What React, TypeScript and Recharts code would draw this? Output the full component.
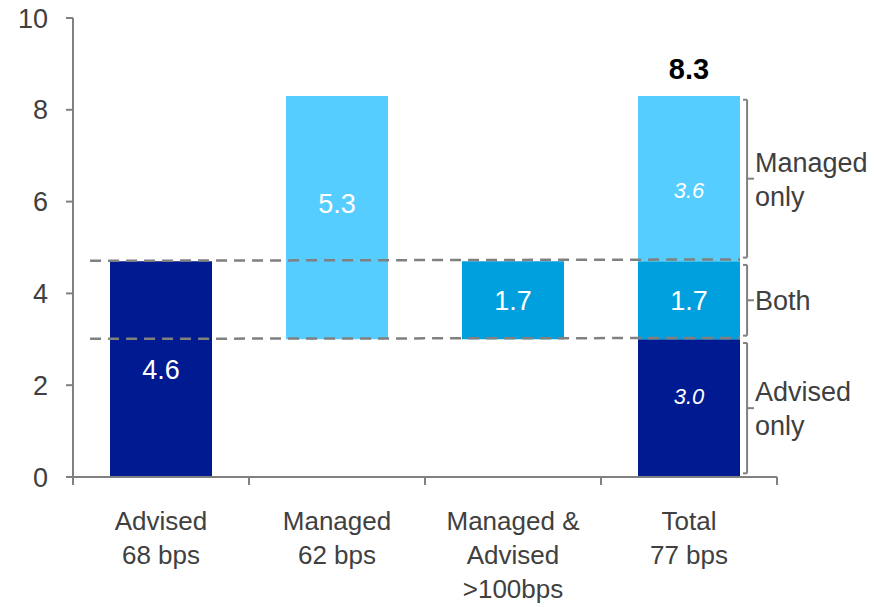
import React from 'react';
import { BarChart, Bar, XAxis, YAxis, ReferenceLine, LabelList } from 'recharts';

const FONT = '"Liberation Sans", Arial, Helvetica, sans-serif';
const TEXT = '#404040';
const AXIS = '#808080';

const categories = ['Advised\n68 bps', 'Managed\n62 bps', 'Managed &\nAdvised\n>100bps', 'Total\n77 bps'];
const baseValues = [0, 3.0, 3.0, 0];
const advisedOnly = [4.7, 0, 0, 3.0];
const bothValues = [0, 0, 1.7, 1.7];
const managedOnly = [0, 5.3, 0, 3.6];

const advisedLabels = ['4.6', '', '', '3.0'];
const bothLabels = ['', '', '1.7', '1.7'];
const managedLabels = ['', '5.3', '', '3.6'];
const totalLabel = '8.3';

const yTicks = [0, 2, 4, 6, 8, 10];

// dashed guide levels: [left, right]
const upperGuide = [4.71, 4.74];
const lowerGuide = [3.01, 3.03];

const bracketNames = [['Advised', 'only'], ['Both'], ['Managed', 'only']];
const totalSegments = [advisedOnly[3], bothValues[3], managedOnly[3]];

const data = categories.map((name, i) => ({
  name,
  pos: i + 0.5,
  base: baseValues[i],
  advised: advisedOnly[i],
  both: bothValues[i],
  managed: managedOnly[i],
}));

const xTicks = [0, 0.5, 1, 1.5, 2, 2.5, 3, 3.5, 4];

function CategoryTick({ x, y, payload }: any) {
  const v = Number(payload.value);
  if (Number.isInteger(v)) {
    return <line x1={x} y1={y} x2={x} y2={y + 8} stroke={AXIS} strokeWidth={2} />;
  }
  const lines = categories[Math.floor(v)].split('\n');
  return (
    <text x={x} y={y} textAnchor="middle" fill={TEXT} fontSize={26} fontFamily={FONT}>
      {lines.map((l, i) => (
        <tspan key={i} x={x} y={y + 53 + i * 34}>{l}</tspan>
      ))}
    </text>
  );
}

function makeLabel(labels: string[], series: string) {
  return (props: any) => {
    const { x, y, width, height, value } = props;
    const index = categories.indexOf(value);
    const txt = labels[index];
    if (!txt) return null;
    const italic = index === 3 && series !== 'both';
    let dy = 0;
    if (series === 'managed' && index === 1) dy = -14;
    if (series === 'managed' && index === 3) dy = 11;
    if (series === 'advised' && index === 3) dy = -12;
    return (
      <text
        x={x + width / 2}
        y={y + height / 2 + dy}
        dy="0.36em"
        textAnchor="middle"
        fill="#ffffff"
        fontSize={italic ? 22 : 27}
        fontStyle={italic ? 'italic' : 'normal'}
        fontFamily={FONT}
      >
        {txt}
      </text>
    );
  };
}

function TotalLabel(props: any) {
  const { x, y, width, value } = props;
  if (value !== categories[3]) return null;
  return (
    <text x={x + width / 2} y={y - 17} textAnchor="middle" fill="#000" fontSize={29} fontWeight="bold" fontFamily={FONT}>
      {totalLabel}
    </text>
  );
}

function BracketLabel({ viewBox, lines }: any) {
  const x = viewBox.x + viewBox.width + 1;
  const first = viewBox.y + 10 - (lines.length - 1) * 17;
  return (
    <text x={x} y={first} fill={TEXT} fontSize={27} fontFamily={FONT}>
      {lines.map((l: string, i: number) => (
        <tspan key={i} x={x} y={first + i * 34}>{l}</tspan>
      ))}
    </text>
  );
}

const BX = 3.83;
const BX_IN = 3.807;
const BX_OUT = 3.869;
const INSET = 0.08;

const nameKey = (d: any) => d.name;

export default function App() {
  let acc = 0;
  const brackets = totalSegments.map((v, i) => {
    const lo = acc + INSET;
    const hi = acc + v - INSET;
    acc += v;
    return { lo, hi, mid: (lo + hi) / 2, lines: bracketNames[i] };
  });

  return (
    <div style={{ position: 'absolute', left: 0, top: 0, background: '#fff' }}>
      <BarChart
        width={875}
        height={607}
        data={data}
        margin={{ top: 18, right: 98, bottom: 0, left: 0 }}
        barSize={102}
      >
        <XAxis
          dataKey="pos"
          type="number"
          domain={[0, 4]}
          ticks={xTicks}
          interval={0}
          height={130}
          tickSize={0}
          tickMargin={0}
          tickLine={false}
          axisLine={{ stroke: AXIS, strokeWidth: 2 }}
          tick={<CategoryTick />}
          allowDataOverflow
        />
        <YAxis
          width={73}
          domain={[0, 10]}
          ticks={yTicks}
          tickSize={7}
          tickMargin={18}
          axisLine={{ stroke: AXIS, strokeWidth: 2 }}
          tickLine={{ stroke: AXIS, strokeWidth: 2 }}
          tick={{ fill: TEXT, fontSize: 27, fontFamily: FONT }}
        />
        <Bar dataKey="base" stackId="a" fill="none" isAnimationActive={false} />
        <Bar dataKey="advised" stackId="a" fill="#001a91" isAnimationActive={false}>
          <LabelList dataKey={nameKey} content={makeLabel(advisedLabels, 'advised')} />
        </Bar>
        <Bar dataKey="both" stackId="a" fill="#009fdd" isAnimationActive={false}>
          <LabelList dataKey={nameKey} content={makeLabel(bothLabels, 'both')} />
        </Bar>
        <Bar dataKey="managed" stackId="a" fill="#55cdff" isAnimationActive={false}>
          <LabelList dataKey={nameKey} content={makeLabel(managedLabels, 'managed')} />
          <LabelList dataKey={nameKey} content={TotalLabel} />
        </Bar>
        <ReferenceLine
          segment={[{ x: 0.097, y: upperGuide[0] }, { x: 3.79, y: upperGuide[1] }]}
          stroke={AXIS}
          strokeWidth={2.5}
          strokeDasharray="11 7"
          ifOverflow="visible"
        />
        <ReferenceLine
          segment={[{ x: 0.097, y: lowerGuide[0] }, { x: 3.79, y: lowerGuide[1] }]}
          stroke={AXIS}
          strokeWidth={2.5}
          strokeDasharray="11 7"
          ifOverflow="visible"
        />
        {brackets.flatMap((b, i) => [
          <ReferenceLine key={`v${i}`} segment={[{ x: BX, y: b.lo }, { x: BX, y: b.hi }]} stroke={AXIS} strokeWidth={2} ifOverflow="visible" />,
          <ReferenceLine key={`t${i}`} segment={[{ x: BX_IN, y: b.hi }, { x: BX, y: b.hi }]} stroke={AXIS} strokeWidth={2} ifOverflow="visible" />,
          <ReferenceLine key={`b${i}`} segment={[{ x: BX_IN, y: b.lo }, { x: BX, y: b.lo }]} stroke={AXIS} strokeWidth={2} ifOverflow="visible" />,
          <ReferenceLine
            key={`m${i}`}
            segment={[{ x: BX, y: b.mid }, { x: BX_OUT, y: b.mid }]}
            stroke={AXIS}
            strokeWidth={2}
            ifOverflow="visible"
            label={<BracketLabel lines={b.lines} />}
          />,
        ])}
      </BarChart>
    </div>
  );
}
